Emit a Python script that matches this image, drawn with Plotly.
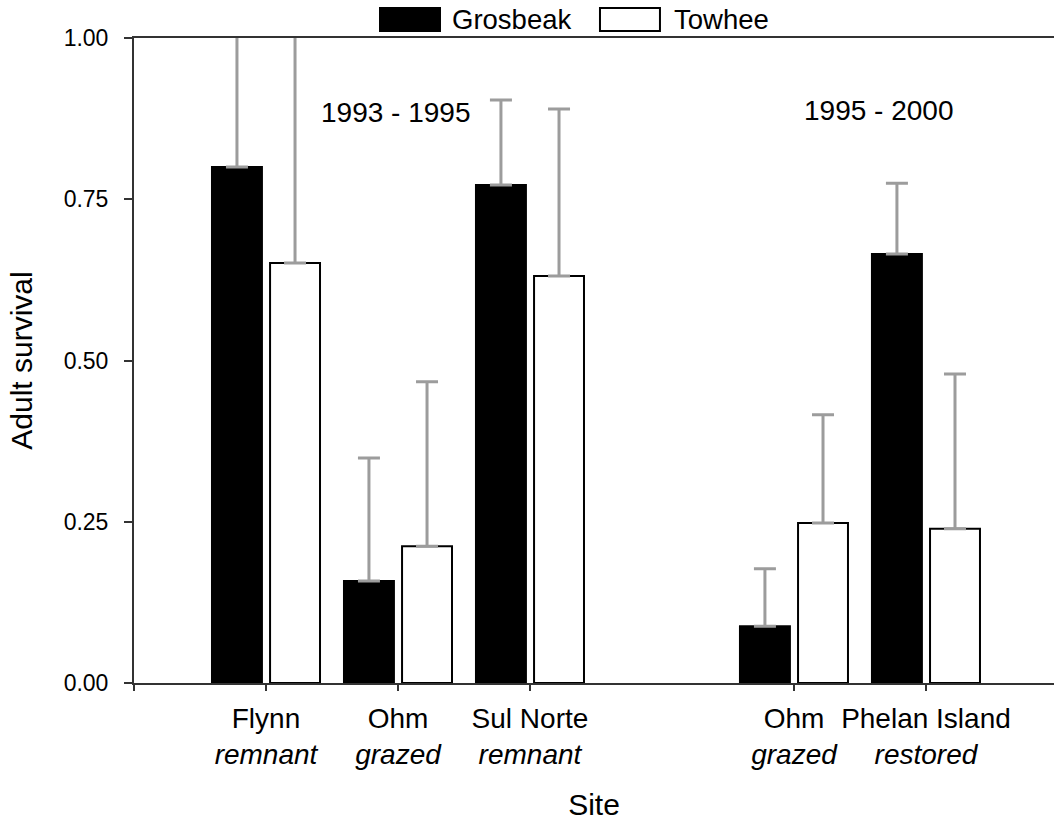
import plotly.graph_objects as go

# Sites (two survey periods, separated by a gap on the axis)
site_pos = [1, 2, 3, 5, 6]
site_labels = [
    "Flynn<br><i>remnant</i>",
    "Ohm<br><i>grazed</i>",
    "Sul Norte<br><i>remnant</i>",
    "Ohm<br><i>grazed</i>",
    "Phelan Island<br><i>restored</i>",
]

# Adult survival estimates
grosbeak = [0.80, 0.158, 0.772, 0.088, 0.665]
towhee = [0.651, 0.212, 0.631, 0.248, 0.239]

# Upper confidence limits
grosbeak_upper = [1.10, 0.349, 0.904, 0.177, 0.775]
towhee_upper = [1.15, 0.467, 0.890, 0.416, 0.479]

FONT = "Liberation Sans, Arial, sans-serif"
ERR = "#9c9c9c"

fig = go.Figure()
fig.add_trace(go.Bar(
    x=site_pos, y=grosbeak, name="Grosbeak",
    marker=dict(color="black", line=dict(color="black", width=2)),
    error_y=dict(type="data", symmetric=False,
                 array=[u - v for u, v in zip(grosbeak_upper, grosbeak)],
                 arrayminus=[0] * len(grosbeak),
                 color=ERR, thickness=3, width=11),
))
fig.add_trace(go.Bar(
    x=site_pos, y=towhee, name="Towhee",
    marker=dict(color="white", line=dict(color="black", width=2)),
    error_y=dict(type="data", symmetric=False,
                 array=[u - v for u, v in zip(towhee_upper, towhee)],
                 arrayminus=[0] * len(towhee),
                 color=ERR, thickness=3, width=11),
))

# Legend drawn as boxes above the plot area
legend_items = [("Grosbeak", "black", 0.2674, 0.3326, 0.3435),
                ("Towhee", "white", 0.5065, 0.5717, 0.5848)]
for name, fill, x0, x1, tx in legend_items:
    fig.add_shape(type="rect", xref="paper", yref="paper",
                  x0=x0, x1=x1, y0=1.0109, y1=1.0465,
                  fillcolor=fill, line=dict(color="black", width=2))
    fig.add_annotation(text=name, xref="paper", yref="paper", x=tx, y=1.0287,
                       xanchor="left", yanchor="middle", showarrow=False,
                       font=dict(size=27.5, color="black", family=FONT))

# Period labels
fig.add_annotation(text="1993 - 1995", x=1.98, y=0.884, showarrow=False,
                   font=dict(size=28, color="black", family=FONT))
fig.add_annotation(text="1995 - 2000", x=5.64, y=0.888, showarrow=False,
                   font=dict(size=28, color="black", family=FONT))

fig.update_layout(
    width=1054, height=821,
    margin=dict(l=134, r=0, t=38, b=138),
    plot_bgcolor="white", paper_bgcolor="white",
    barmode="group", bargap=0.12, bargroupgap=0.14,
    showlegend=False,
    font=dict(family=FONT, color="black"),
)
fig.update_xaxes(
    range=[0, 6.97],
    tickvals=[0] + site_pos, ticktext=[""] + site_labels,
    ticks="outside", ticklen=6, tickwidth=2, tickcolor="#333",
    ticklabelstandoff=3,
    showline=True, linecolor="#333", linewidth=2, mirror=True,
    showgrid=False, zeroline=False,
    tickfont=dict(size=28, family=FONT, color="black"),
    title=dict(text="Site", font=dict(size=30, family=FONT, color="black"), standoff=30),
)
fig.update_yaxes(
    range=[0, 1.0],
    tickvals=[0, 0.25, 0.5, 0.75, 1.0],
    ticktext=["0.00", "0.25", "0.50", "0.75", "1.00"],
    ticks="outside", ticklen=8, tickwidth=2, tickcolor="#333",
    ticklabelstandoff=11,
    showline=True, linecolor="#333", linewidth=2,
    showgrid=False, zeroline=False,
    tickfont=dict(size=23, family=FONT, color="black"),
    title=dict(text="Adult survival", font=dict(size=30, family=FONT, color="black"), standoff=22),
)

fig.write_html("out.html")
